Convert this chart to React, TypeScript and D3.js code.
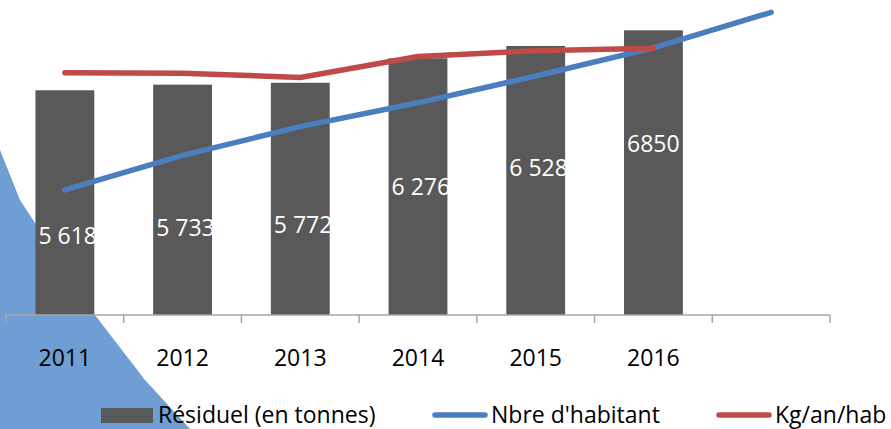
import * as d3 from 'd3';
import React, { useEffect, useRef } from 'react';

const categories = ['2011', '2012', '2013', '2014', '2015', '2016', ''];
const residuel = [5618, 5733, 5772, 6276, 6528, 6850];
const residuelLabels = ['5 618', '5 733', '5 772', '6 276', '6 528', '6850'];
const habitants = [11570, 12280, 12870, 13360, 13910, 14490, 15220];
const kgAnHab = [498, 497, 488, 531, 543, 548];
const seriesNames = ['Résiduel (en tonnes)', "Nbre d'habitant", 'Kg/an/hab'];

const FONT = "'Open Sans', 'Noto Sans', sans-serif";
const BAR = '#595959';
const BLUE = '#4a7ebe';
const RED = '#be4b48';

function App() {
    const ref = useRef(null);

    useEffect(() => {
        const svg = d3.select(ref.current);
        svg.selectAll('*').remove();

        const width = 891;
        const height = 429;
        const axisY = 315;
        const top = 23;

        svg.append('rect').attr('width', width).attr('height', height).attr('fill', '#fff');

        // decorative blue shape behind the chart (bottom left)
        svg.append('path')
            .attr('d', d3.line().curve(d3.curveLinear)([
                [0, 150], [20, 200], [95, 315], [145, 380], [190, 429], [0, 429]
            ]) + 'Z')
            .attr('fill', '#6e9ed3');

        const x = d3.scaleBand()
            .domain(categories.map((c, i) => i + ''))
            .range([6, 830])
            .paddingInner(0.5)
            .paddingOuter(0.25);

        const y = d3.scaleLinear().domain([1000, 7000]).range([axisY, top]);
        const yPop = d3.scaleLinear().domain([9000, 15000]).range([axisY, top]);
        const yKg = d3.scaleLinear().domain([0, 600]).range([axisY, top]);
        // data labels are placed on their own linear scale
        const yLabel = d3.scaleLinear().domain([1000, 7000]).range([583.7, 132.1]);

        const cx = (i) => x(i + '') + x.bandwidth() / 2;

        svg.selectAll('.bar')
            .data(residuel)
            .enter().append('rect')
            .attr('class', 'bar')
            .attr('x', (d, i) => x(i + ''))
            .attr('width', x.bandwidth())
            .attr('y', d => y(d))
            .attr('height', d => axisY - y(d))
            .attr('fill', BAR);

        // axis
        const step = x.step();
        const ticks = d3.range(categories.length + 1).map(i => 6 + i * step);
        svg.append('line')
            .attr('x1', 6).attr('x2', 6 + categories.length * step)
            .attr('y1', axisY).attr('y2', axisY)
            .attr('stroke', '#a6a6a6').attr('stroke-width', 1.5);
        svg.selectAll('.tick')
            .data(ticks)
            .enter().append('line')
            .attr('x1', d => d).attr('x2', d => d)
            .attr('y1', axisY).attr('y2', axisY + 8)
            .attr('stroke', '#a6a6a6').attr('stroke-width', 1.5);

        svg.selectAll('.cat')
            .data(categories)
            .enter().append('text')
            .attr('x', (d, i) => cx(i))
            .attr('y', 366)
            .attr('text-anchor', 'middle')
            .attr('font-family', FONT)
            .attr('font-size', 23)
            .attr('fill', '#000')
            .text(d => d);

        svg.append('path')
            .datum(habitants)
            .attr('d', d3.line().x((d, i) => cx(i)).y(d => yPop(d)))
            .attr('fill', 'none')
            .attr('stroke', BLUE)
            .attr('stroke-width', 5.5)
            .attr('stroke-linecap', 'round')
            .attr('stroke-linejoin', 'round');

        svg.append('path')
            .datum(kgAnHab)
            .attr('d', d3.line().x((d, i) => cx(i)).y(d => yKg(d)))
            .attr('fill', 'none')
            .attr('stroke', RED)
            .attr('stroke-width', 5.5)
            .attr('stroke-linecap', 'round')
            .attr('stroke-linejoin', 'round');

        svg.selectAll('.label')
            .data(residuel)
            .enter().append('text')
            .attr('x', (d, i) => x(i + '') + 3)
            .attr('y', d => yLabel(d) + 8.2)
            .attr('font-family', FONT)
            .attr('font-size', 23)
            .attr('fill', '#fff')
            .text((d, i) => residuelLabels[i]);

        // legend
        const legendX = [101, 433, 717];
        const legendY = 415;
        const lg = svg.append('g').attr('font-family', FONT).attr('font-size', 23);
        lg.append('rect')
            .attr('x', legendX[0]).attr('y', legendY - 7)
            .attr('width', 52).attr('height', 15)
            .attr('fill', BAR);
        [BLUE, RED].forEach((c, k) => {
            lg.append('line')
                .attr('x1', legendX[k + 1] + 2).attr('x2', legendX[k + 1] + 52)
                .attr('y1', legendY).attr('y2', legendY)
                .attr('stroke', c).attr('stroke-width', 5.5)
                .attr('stroke-linecap', 'round');
        });
        lg.selectAll('.lt')
            .data(seriesNames)
            .enter().append('text')
            .attr('x', (d, i) => legendX[i] + (i === 0 ? 57 : 58))
            .attr('y', 423)
            .attr('fill', '#000')
            .text(d => d);
    }, []);

    return <svg ref={ref} width={891} height={429}
        style={{ position: 'absolute', left: 0, top: 0, display: 'block' }}></svg>;
}

export default App;
